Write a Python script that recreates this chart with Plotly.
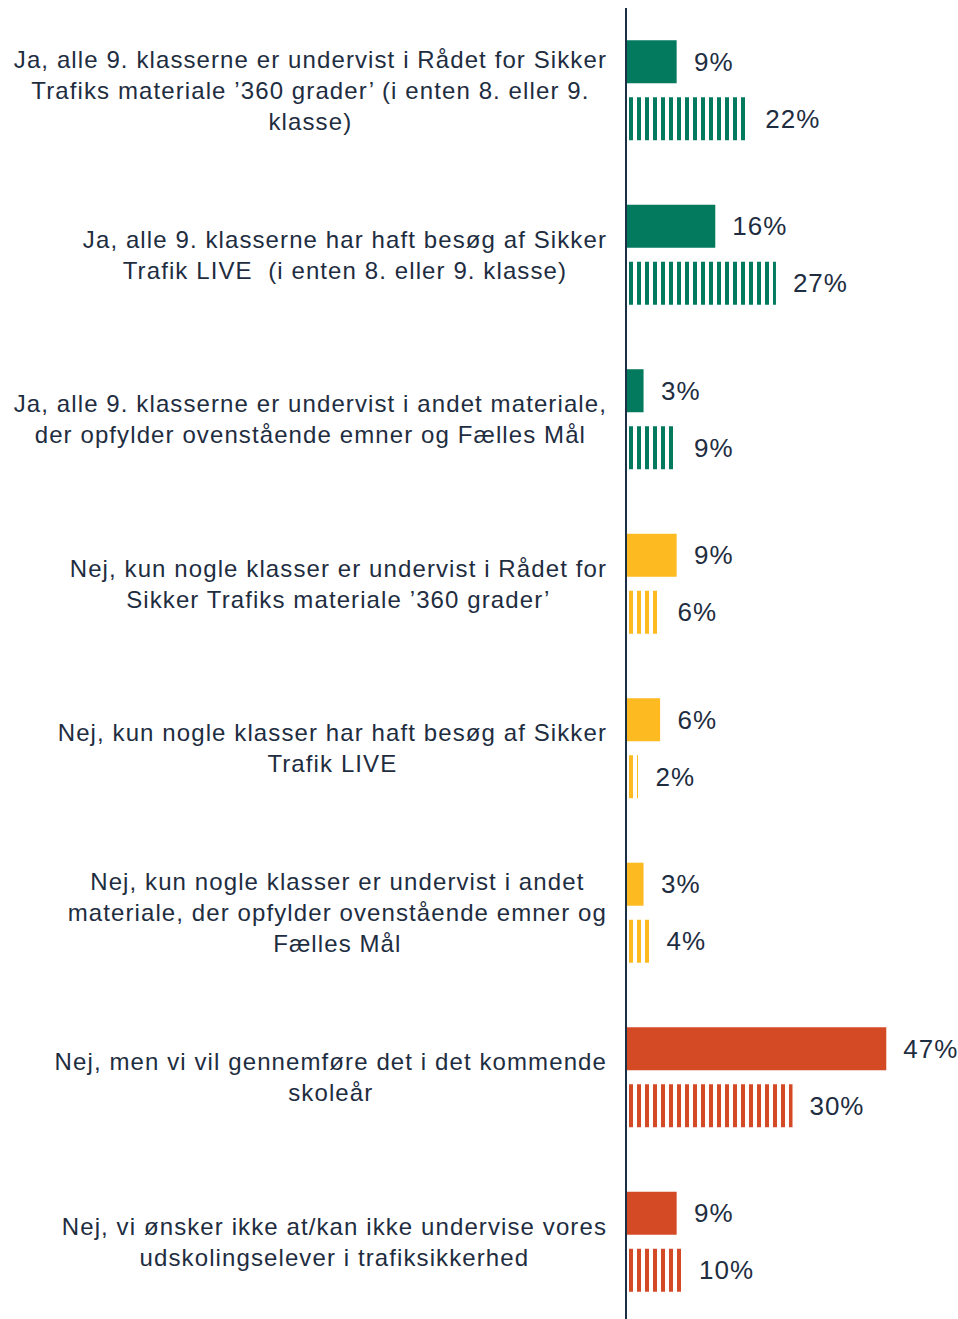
import plotly.graph_objects as go

categories = [
    "Ja, alle 9. klasserne er undervist i Rådet for Sikker<br>Trafiks materiale ’360 grader’ (i enten 8. eller 9.<br>klasse)",
    "Ja, alle 9. klasserne har haft besøg af Sikker<br>Trafik LIVE  (i enten 8. eller 9. klasse)",
    "Ja, alle 9. klasserne er undervist i andet materiale,<br>der opfylder ovenstående emner og Fælles Mål",
    "Nej, kun nogle klasser er undervist i Rådet for<br>Sikker Trafiks materiale ’360 grader’",
    "Nej, kun nogle klasser har haft besøg af Sikker<br>Trafik LIVE",
    "Nej, kun nogle klasser er undervist i andet<br>materiale, der opfylder ovenstående emner og<br>Fælles Mål",
    "Nej, men vi vil gennemføre det i det kommende<br>skoleår",
    "Nej, vi ønsker ikke at/kan ikke undervise vores<br>udskolingselever i trafiksikkerhed",
]
series_solid = [9, 16, 3, 9, 6, 3, 47, 9]
series_striped = [22, 27, 9, 6, 2, 4, 30, 10]

GREEN = "#037A5E"
YELLOW = "#FDBB21"
RED = "#D34A24"
bar_colors = [GREEN, GREEN, GREEN, YELLOW, YELLOW, YELLOW, RED, RED]

TEXT = "#1E2D3F"
FONT = "Liberation Sans, Arial, sans-serif"

ids = list(range(len(categories)))

fig = go.Figure()
fig.add_trace(go.Bar(
    y=ids, x=series_solid, orientation="h",
    marker=dict(color=bar_colors, line=dict(width=0)),
    text=[f"  {v}%" for v in series_solid], textposition="outside",
    textfont=dict(size=26, color=TEXT, family=FONT), cliponaxis=False,
    showlegend=False, hoverinfo="skip",
))
fig.add_trace(go.Bar(
    y=ids, x=series_striped, orientation="h",
    marker=dict(color=bar_colors, line=dict(width=0),
                pattern=dict(shape="|", size=8, solidity=0.5,
                             fgcolor=bar_colors, bgcolor="white", fillmode="replace")),
    text=[f"  {v}%" for v in series_striped], textposition="outside",
    textfont=dict(size=26, color=TEXT, family=FONT), cliponaxis=False,
    showlegend=False, hoverinfo="skip",
))

for i, c in enumerate(categories):
    fig.add_annotation(
        x=0, xref="paper", xanchor="right", xshift=-20,
        y=i, yref="y", yanchor="middle",
        text=c, showarrow=False, align="center",
        font=dict(size=24, color=TEXT, family=FONT),
    )

fig.update_layout(
    width=958, height=1319,
    margin=dict(l=627, r=0, t=8, b=0),
    barmode="group", bargap=0.307, bargroupgap=0.245,
    plot_bgcolor="white", paper_bgcolor="white",
    font=dict(family=FONT, color=TEXT),
    uniformtext=dict(mode=False),
)
fig.update_xaxes(range=[0, 60], showgrid=False, zeroline=False,
                 showticklabels=False, ticks="")
fig.update_yaxes(range=[7.47, -0.5], showgrid=False, zeroline=False,
                 showticklabels=False, ticks="", showline=True,
                 linecolor="#1B2F45", linewidth=2)

post = """
document.documentElement.style.overflow = 'hidden';
document.body.style.margin = '0';
document.body.style.overflow = 'hidden';
var gd = document.getElementById('{plot_id}');
gd.querySelectorAll('text.annotation-text').forEach(function(t){ t.style.letterSpacing = '1.1px'; });
gd.querySelectorAll('text.bartext').forEach(function(t){ t.style.letterSpacing = '1px'; });
gd.querySelectorAll('g.annotation').forEach(function(g){
  var t = g.querySelector('text.annotation-text');
  if (!t) return;
  var r = t.getBoundingClientRect();
  var dx = 607 - r.right;
  g.setAttribute('transform', (g.getAttribute('transform') || '') + ' translate(' + dx + ',0)');
});
"""

fig.write_html("out.html", post_script=post,
               config={"displayModeBar": False, "staticPlot": True})
